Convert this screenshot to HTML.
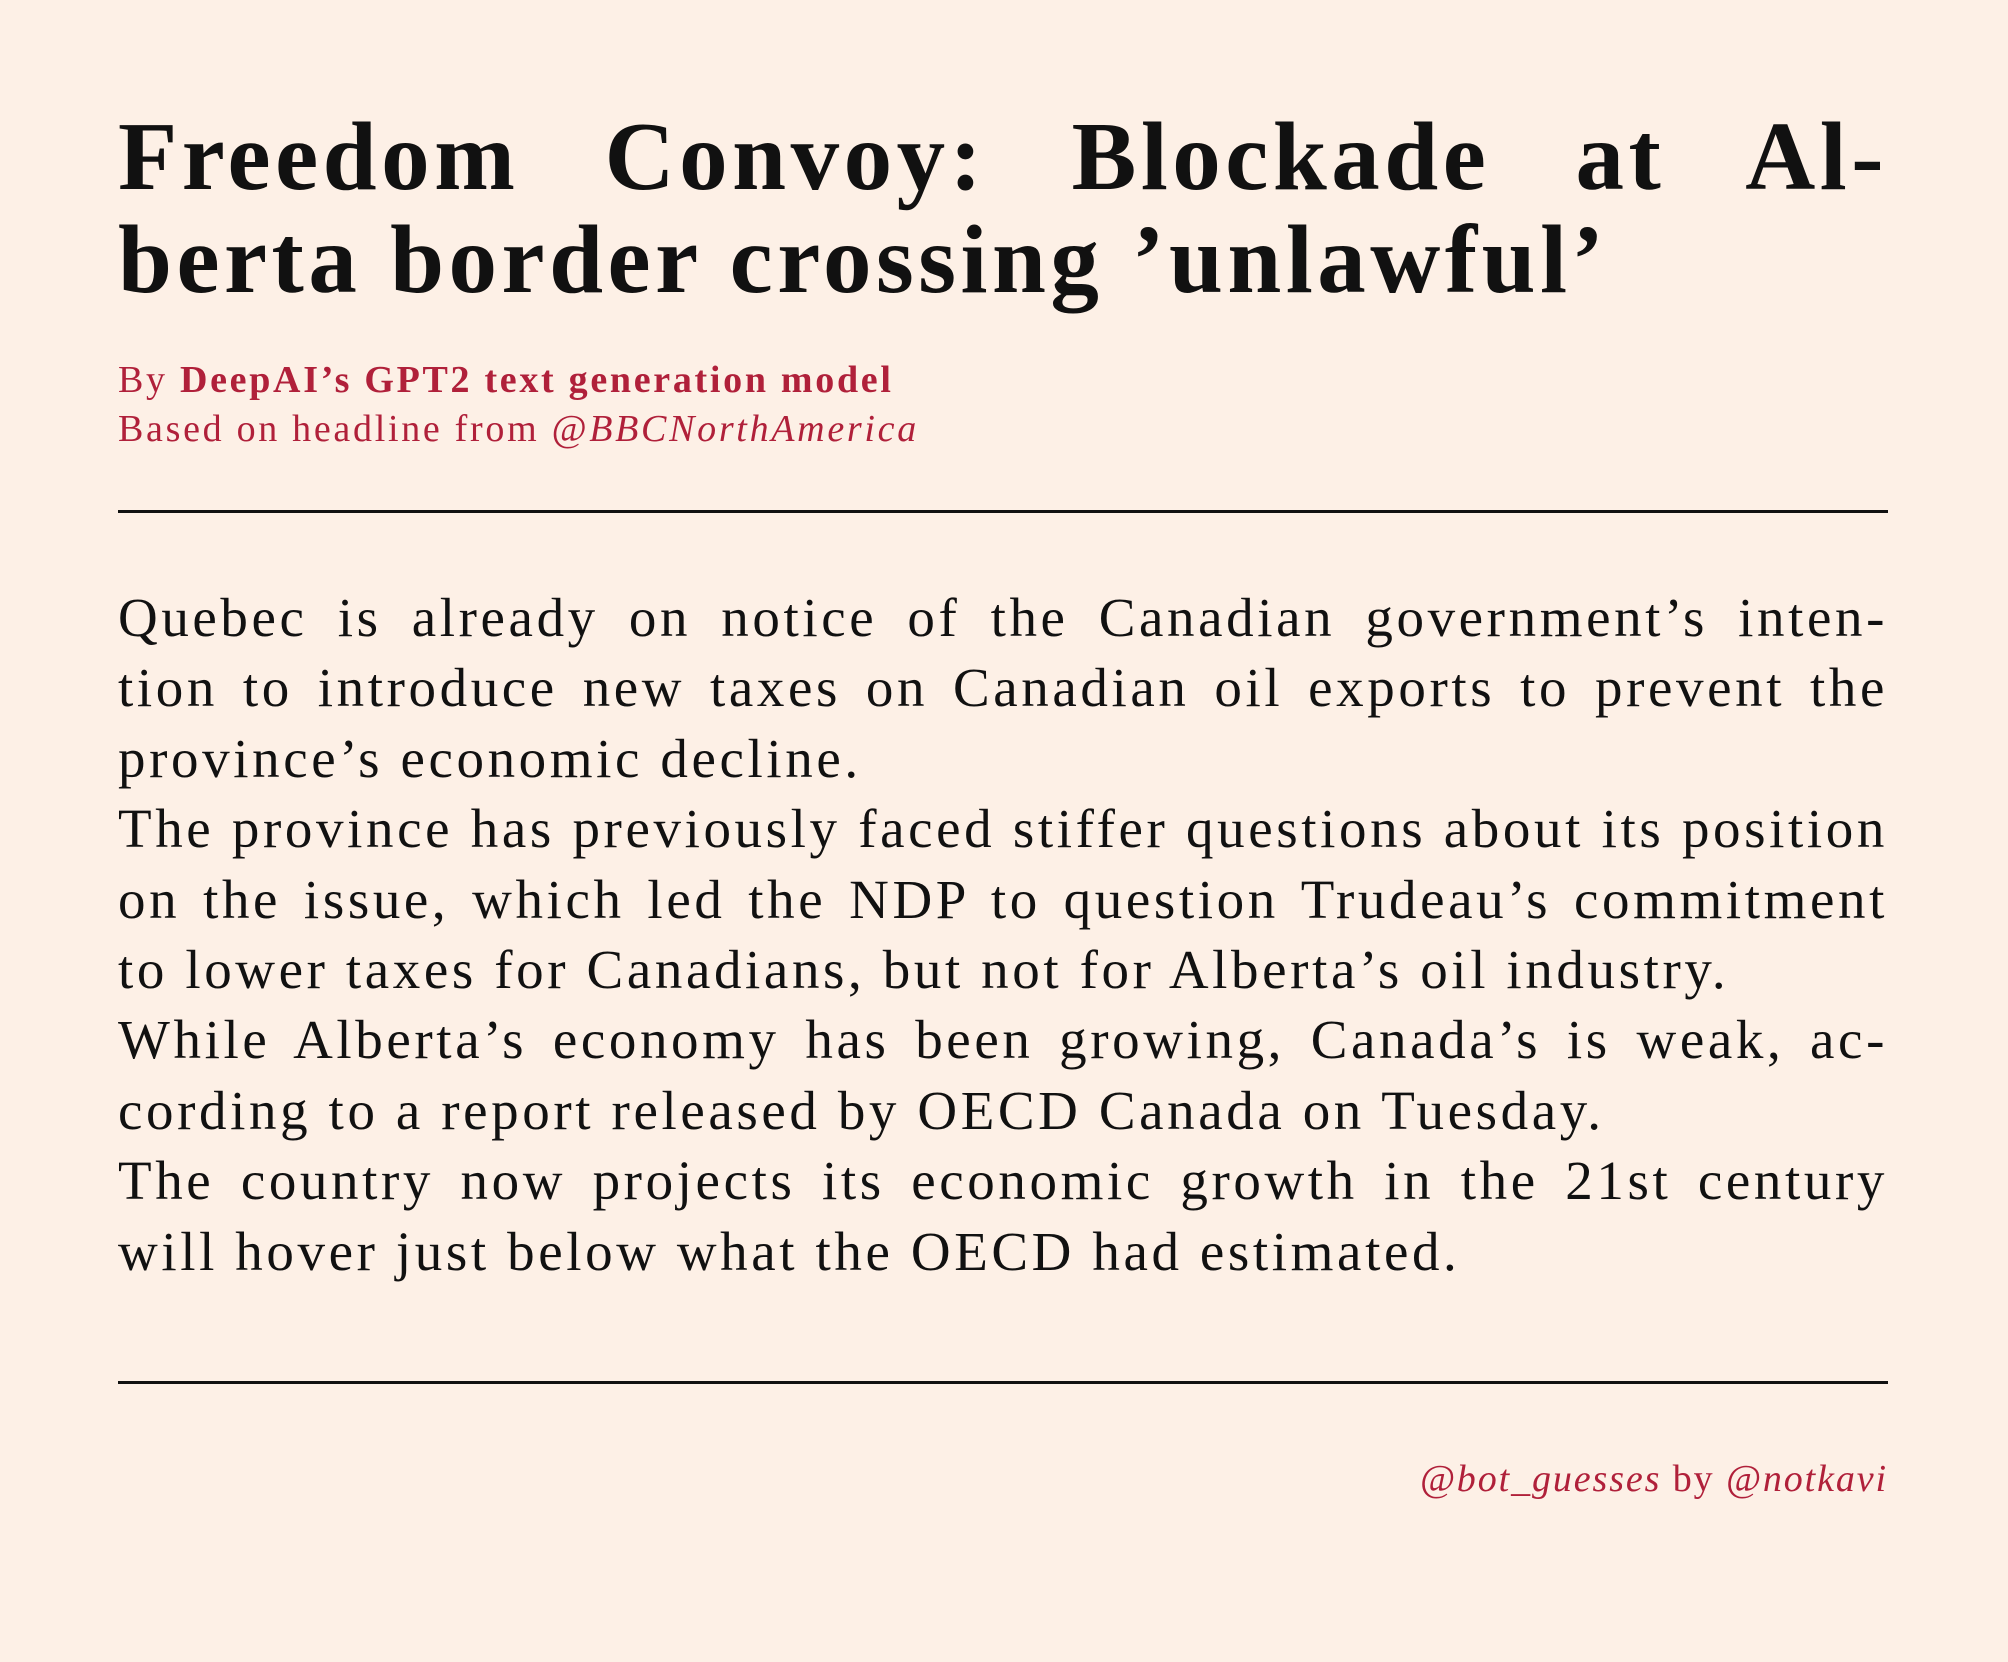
<!DOCTYPE html>
<html><head><meta charset="utf-8"><style>
html,body{margin:0;padding:0}
body{width:2008px;height:1662px;background:#fdf0e6;position:relative;overflow:hidden;font-family:"Liberation Serif",serif;color:#111}
.a{position:absolute;left:118px;width:1770px}
.j{text-align:justify;text-align-last:justify;white-space:nowrap}
.title div{font-size:97px;line-height:103px;font-weight:bold;letter-spacing:4.5px;white-space:nowrap}
.body div{font-size:55px;line-height:70.4px;letter-spacing:3.6px;white-space:nowrap}
.red{color:#b0203a}
.rule{position:absolute;left:118px;width:1770px;height:2.5px;background:#111}
</style></head><body>
<div class="a title" style="top:105px">
<div class="j">Freedom Convoy: Blockade at Al-</div>
<div>berta border crossing ’unlawful’</div>
</div>
<div class="a red" style="top:356px;font-size:38px;line-height:48.6px;letter-spacing:2.7px">
<div>By <b>DeepAI’s GPT2 text generation model</b></div>
<div>Based on headline from <i>@BBCNorthAmerica</i></div>
</div>
<div class="rule" style="top:510px"></div>
<div class="a body" style="top:583px">
<div class="j">Quebec is already on notice of the Canadian government’s inten-</div>
<div class="j">tion to introduce new taxes on Canadian oil exports to prevent the</div>
<div>province’s economic decline.</div>
<div class="j">The province has previously faced stiffer questions about its position</div>
<div class="j">on the issue, which led the NDP to question Trudeau’s commitment</div>
<div>to lower taxes for Canadians, but not for Alberta’s oil industry.</div>
<div class="j">While Alberta’s economy has been growing, Canada’s is weak, ac-</div>
<div>cording to a report released by OECD Canada on Tuesday.</div>
<div class="j">The country now projects its economic growth in the 21st century</div>
<div>will hover just below what the OECD had estimated.</div>
</div>
<div class="rule" style="top:1381px"></div>
<div class="a red" style="top:1459px;font-size:38px;line-height:40px;letter-spacing:1.9px;text-align:right"><i>@bot_guesses</i> by <i>@notkavi</i></div>
</body></html>
